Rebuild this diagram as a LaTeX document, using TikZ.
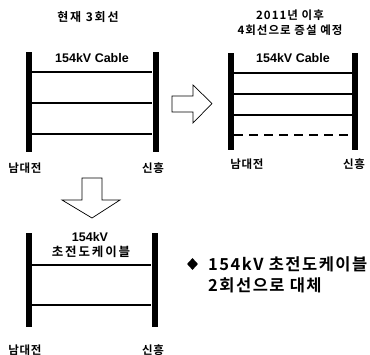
\documentclass[tikz,border=0pt]{standalone}
\usepackage{fontspec}
\setmainfont{Liberation Sans}
\newfontfamily\kr{Noto Sans CJK KR}[BoldFont={* Bold}]
\newfontfamily\krw{Noto Sans CJK KR}[BoldFont={* Bold},LetterSpace=15]
\newfontfamily\krn{Noto Sans CJK KR}[BoldFont={* Bold},LetterSpace=6]
\newfontfamily\krm{Noto Sans CJK KR}[BoldFont={* Bold},LetterSpace=9]
\usetikzlibrary{shapes.geometric}
\begin{document}
\begin{tikzpicture}[x=1pt,y=-1pt,
  bar/.style={fill=black,draw=none,inner sep=0pt,minimum width=6pt},
  cable/.style={line width=1.6pt},
  lbl/.style={font=\krn\bfseries\fontsize{11.5}{13}\selectfont,inner sep=0pt},
  ttl/.style={font=\krm\bfseries\fontsize{11.5}{15}\selectfont,inner sep=0pt,align=center},
  cab/.style={font=\bfseries\fontsize{12.5}{14}\selectfont,inner sep=0pt},
  hollow/.style={draw=black,line width=0.7pt,fill=white,line join=miter}]
\useasboundingbox (0,0) rectangle (370,355);
% ---------- top left ----------
\node[ttl,font=\krw\bfseries\fontsize{12}{14}\selectfont] (t1) at (88,17) {현재 3회선};
\node[bar,minimum height=100pt] (l1) at (28.5,102) {};
\node[bar,minimum height=100pt] (r1) at (155.5,102) {};
\node[cab] (c1) at (92,58) {154kV Cable};
\foreach \yy in {72,103,134} \draw[cable] (l1.east |- 0,\yy) -- (r1.west |- 0,\yy);
\node[lbl] (a1) at (25,168) {남대전};
\node[lbl] (b1) at (153,168) {신흥};
% ---------- top right ----------
\node[ttl] (t2) at (290,23) {2011년 이후\\4회선으로 증설 예정};
\node[bar,minimum height=97pt] (l2) at (231,101.5) {};
\node[bar,minimum height=97pt] (r2) at (355,101.5) {};
\node[cab] (c2) at (293,58) {154kV Cable};
\foreach \yy in {73,94,115} \draw[cable] (l2.east |- 0,\yy) -- (r2.west |- 0,\yy);
\draw[cable,dash pattern=on 9pt off 6pt] (l2.east |- 0,135) -- (r2.west |- 0,135);
\node[lbl] (a2) at (247,164) {남대전};
\node[lbl] (b2) at (354,164) {신흥};
% ---------- right arrow ----------
\draw[hollow] (172,96) -- (193,96) -- (193,85) -- (212,103.5) -- (193,123) -- (193,112) -- (172,112) -- cycle;
% ---------- down arrow ----------
\draw[hollow] (82,178) -- (102,178) -- (102,200) -- (120,200) -- (92,218) -- (62,200) -- (82,200) -- cycle;
% ---------- bottom left ----------
\node[bar,minimum height=94pt] (l3) at (28.5,280) {};
\node[bar,minimum height=94pt] (r3) at (154.5,280) {};
\node[cab] (c3) at (90,237) {154kV};
\node[lbl,font=\krw\bfseries\fontsize{12.5}{14}\selectfont] (d3) at (91,252) {초전도케이블};
\foreach \yy in {265,305} \draw[cable] (l3.east |- 0,\yy) -- (r3.west |- 0,\yy);
\node[lbl] (a3) at (25,350) {남대전};
\node[lbl] (b3) at (153,350) {신흥};
% ---------- note ----------
\node[diamond,fill=black,inner sep=0pt,minimum width=11pt,minimum height=12pt] (dm) at (192.5,264) {};
\node[anchor=west,inner sep=0pt,align=left,font=\krm\bfseries\fontsize{16.5}{21}\selectfont] (nt) at (208,274.5) {154kV 초전도케이블\\2회선으로 대체};
\end{tikzpicture}
\end{document}
